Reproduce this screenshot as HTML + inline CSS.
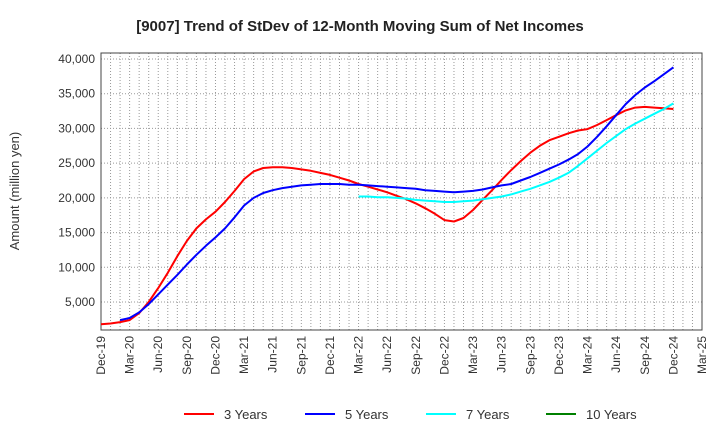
<!DOCTYPE html>
<html><head><meta charset="utf-8"><style>
body{margin:0;background:#fff;font-family:"Liberation Sans",Arial,sans-serif}
svg text{font-family:"Liberation Sans",Arial,sans-serif}
</style></head><body>
<svg id="chart" width="720" height="440" xmlns="http://www.w3.org/2000/svg">
<text x="360" y="31" text-anchor="middle" font-size="15" font-weight="bold" fill="#222">[9007]  Trend of StDev of 12-Month Moving Sum of Net Incomes</text>
<text transform="translate(19,191) rotate(-90)" text-anchor="middle" font-size="13" fill="#333">Amount (million yen)</text>
<g id="grid"></g>
<g id="axes"></g>
<g id="series"></g>
<g id="legend"></g>
</svg>
<script>
const tickLabels=["Dec-19","Mar-20","Jun-20","Sep-20","Dec-20","Mar-21","Jun-21","Sep-21","Dec-21","Mar-22","Jun-22","Sep-22","Dec-22","Mar-23","Jun-23","Sep-23","Dec-23","Mar-24","Jun-24","Sep-24","Dec-24","Mar-25"];
const yTicks=[5000,10000,15000,20000,25000,30000,35000,40000];
const seriesNames=["3 Years","5 Years","7 Years","10 Years"];
const seriesColors=["#ff0000","#0000ff","#00ffff","#008000"];
const red=[1800,1900,2100,2400,3400,5000,7000,9200,11600,13800,15600,16900,18000,19400,21000,22700,23800,24300,24400,24400,24300,24100,23900,23600,23300,22900,22500,22000,21600,21200,20800,20300,19800,19200,18500,17700,16800,16600,17100,18250,19700,21100,22600,24000,25300,26500,27500,28300,28800,29300,29700,29900,30500,31200,31900,32600,33000,33100,33000,32900,32800];
const blue=[null,null,2400,2700,3500,4700,6100,7500,8900,10400,11800,13100,14300,15600,17200,18900,20000,20700,21100,21400,21600,21800,21900,22000,22000,22000,21900,21900,21800,21700,21600,21500,21400,21300,21100,21000,20900,20800,20900,21000,21200,21500,21800,22000,22500,23000,23600,24200,24800,25500,26300,27400,28800,30300,31900,33500,34800,35900,36800,37800,38800,39800].slice(0,61);
const cyan=[null,null,null,null,null,null,null,null,null,null,null,null,null,null,null,null,null,null,null,null,null,null,null,null,null,null,null,20200,20200,20100,20100,20000,19900,19700,19600,19500,19400,19400,19500,19600,19800,20000,20200,20500,20900,21300,21800,22300,22900,23600,24600,25700,26800,27900,28900,29900,30700,31400,32100,32800,33600];
const tenY=[];
const X0=101,X1=702,Y0=53,Y1=330,MONTHS=63,YMIN=967,YMAX=40864;
const xs=m=>X0+(X1-X0)*m/MONTHS;
const ys=v=>Y1-(v-YMIN)/(YMAX-YMIN)*(Y1-Y0);
const NS="http://www.w3.org/2000/svg";
function mk(tag,attrs,parent){const e=document.createElementNS(NS,tag);for(const k in attrs)e.setAttribute(k,attrs[k]);parent.appendChild(e);return e;}
const grid=document.getElementById('grid'),axes=document.getElementById('axes'),ser=document.getElementById('series'),leg=document.getElementById('legend');
for(let m=1;m<MONTHS;m++){const l=mk('line',{x1:xs(m),x2:xs(m),y1:Y0,y2:Y1,stroke:'#999','stroke-dasharray':'1,2','stroke-width':1},grid);

}
yTicks.forEach(v=>{const l=mk('line',{x1:X0,x2:X1,y1:ys(v),y2:ys(v),stroke:'#999','stroke-dasharray':'1,2','stroke-width':1},grid);


const t=mk('text',{x:X0-6,y:ys(v)+4,'text-anchor':'end','font-size':12,fill:'#333'},axes);


t.textContent=v.toLocaleString('en-US');});
const frame=mk('rect',{x:X0,y:Y0,width:X1-X0,height:Y1-Y0,fill:'none',stroke:'#444','stroke-width':1},axes);


tickLabels.forEach((s,i)=>{const x=xs(i*3);const t=mk('text',{transform:`translate(${x+4},336) rotate(-90)`,'text-anchor':'end','font-size':12,fill:'#333'},axes);


t.textContent=s;});
[red,blue,cyan,tenY].forEach((arr,si)=>{let d='';arr.forEach((v,m)=>{if(v==null)return;d+=(d?'L':'M')+xs(m).toFixed(1)+','+ys(v).toFixed(1);});
if(!d)return;const p=mk('path',{d:d,fill:'none',stroke:seriesColors[si],'stroke-width':2,'stroke-linejoin':'round'},ser);

});
const lx=[184,305,426,546];
seriesNames.forEach((n,i)=>{const g=mk('g',{},leg);


mk('line',{x1:lx[i],x2:lx[i]+30,y1:414,y2:414,stroke:seriesColors[i],'stroke-width':2},g);
const t=mk('text',{x:lx[i]+40,y:419,'font-size':13,fill:'#333'},g);t.textContent=n;});
</script>
</body></html>
